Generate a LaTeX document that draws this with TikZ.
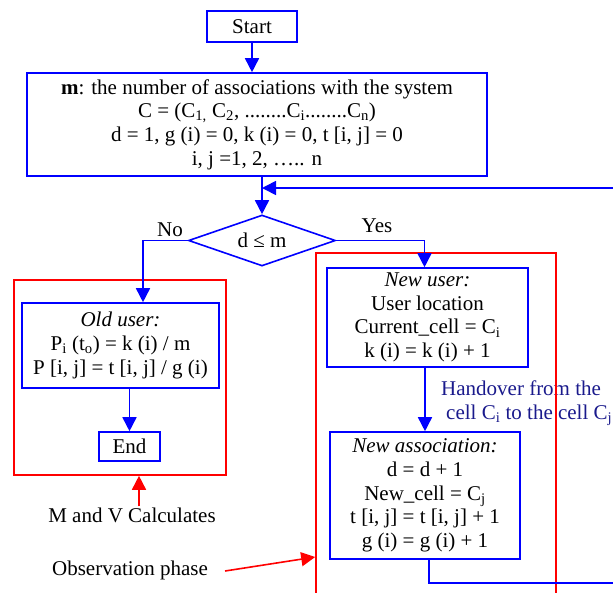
\documentclass[tikz,border=0pt]{standalone}
\usepackage{fontspec}
\setmainfont{Liberation Serif}
\usetikzlibrary{shapes.geometric,arrows.meta}

\definecolor{flowblue}{RGB}{0,0,255}
\definecolor{phasered}{RGB}{255,0,0}
\definecolor{notenavy}{RGB}{26,26,140}

\begin{document}
\begin{tikzpicture}[x=1pt,y=-1pt,
  txt/.style={font=\fontsize{21}{23.7}\selectfont, align=center, inner sep=1pt},
  blk/.style={txt, draw=flowblue, line width=1.6pt},
  phase/.style={draw=phasered, line width=1.6pt, inner sep=0pt},
  flow/.style={draw=flowblue, line width=1.6pt, -{Triangle[length=14pt,width=14pt]}},
  redflow/.style={draw=phasered, line width=1.6pt, -{Triangle[length=14pt,width=14pt]}}]

\useasboundingbox (0,0) rectangle (613,592);

\node[blk, minimum width=90pt, minimum height=31pt] (start) at (252,26.5) {Start};
\node[blk, minimum width=460pt, minimum height=103pt] (init) at (257,124.5)
  {\textbf{m}: the number of associations with the system\\
   C = (C\textsubscript{1,} C\textsubscript{2}, ........C\textsubscript{i}........C\textsubscript{n})\\
   d = 1, g (i) = 0, k (i) = 0, t [i, j] = 0\\
   i, j =1, 2, ….. n};
\node[blk, shape=diamond, aspect=2.9, inner sep=0pt, minimum width=147pt, minimum height=51pt] (dec) at (262,240.5) {d ≤ m};

% old user branch
\node[blk, minimum width=197pt, minimum height=85pt] (old) at (120.5,345.5)
  {\textit{Old user:}\\
   P\textsubscript{i} (t\textsubscript{o}) = k (i) / m\\
   P [i, j] = t [i, j] / g (i)};
\node[blk, minimum width=61pt, minimum height=29pt] (endn) at (129.5,446.5) {End};

% new user branch
\node[blk, minimum width=201pt, minimum height=99pt] (newuser) at (427.5,317.5)
  {\textit{New user:}\\
   User location\\
   Current\_cell = C\textsubscript{i}\\
   k (i) = k (i) + 1};
\node[blk, minimum width=190pt, minimum height=127pt] (newassoc) at (425,495.5)
  {\textit{New association:}\\
   d = d + 1\\
   New\_cell = C\textsubscript{j}\\
   t [i, j] = t [i, j] + 1\\
   g (i) = g (i) + 1};

\node[txt] (no) at (170,230) {No};
\node[txt] (yes) at (377,226) {Yes};
\node[txt, text=notenavy, align=left, anchor=west] (hand) at (440,403)
  {Handover from the\\\hspace{5pt}cell C\textsubscript{i} to the cell C\textsubscript{j}};

\node[txt] (mv) at (132,515) {M and V Calculates};
\node[txt] (obs) at (130,570) {Observation phase};

% phases
\node[phase, minimum width=212pt, minimum height=195pt] (oldphase) at (120,377.5) {};
\node[phase, minimum width=240pt, minimum height=367pt] (obsphase) at (436,436.5) {};

\coordinate (loopin) at (dec.north |- 0,188);

\draw[flow] (start.south) -- (start.south |- init.north);
\draw[flow] (init.south -| dec.north) -- (dec.north);
\draw[flow] (dec.west) -| ([xshift=22.5pt]old.north);
\draw[flow] (dec.east) -| ([xshift=-3pt]newuser.north);
\draw[flow] (old.south -| endn.north) -- (endn.north);
\draw[flow] (newuser.south -| newassoc.north) -- (newassoc.north);
\draw[flow] ([xshift=4pt]newassoc.south) |- (640,583) |- (loopin);

\draw[redflow] ([xshift=7pt]mv.north) -- ([xshift=7pt]mv.north |- oldphase.south);
\draw[redflow] ([xshift=16pt,yshift=-1pt]obs.east) -- (obsphase.west |- 0,557);

\end{tikzpicture}
\end{document}
